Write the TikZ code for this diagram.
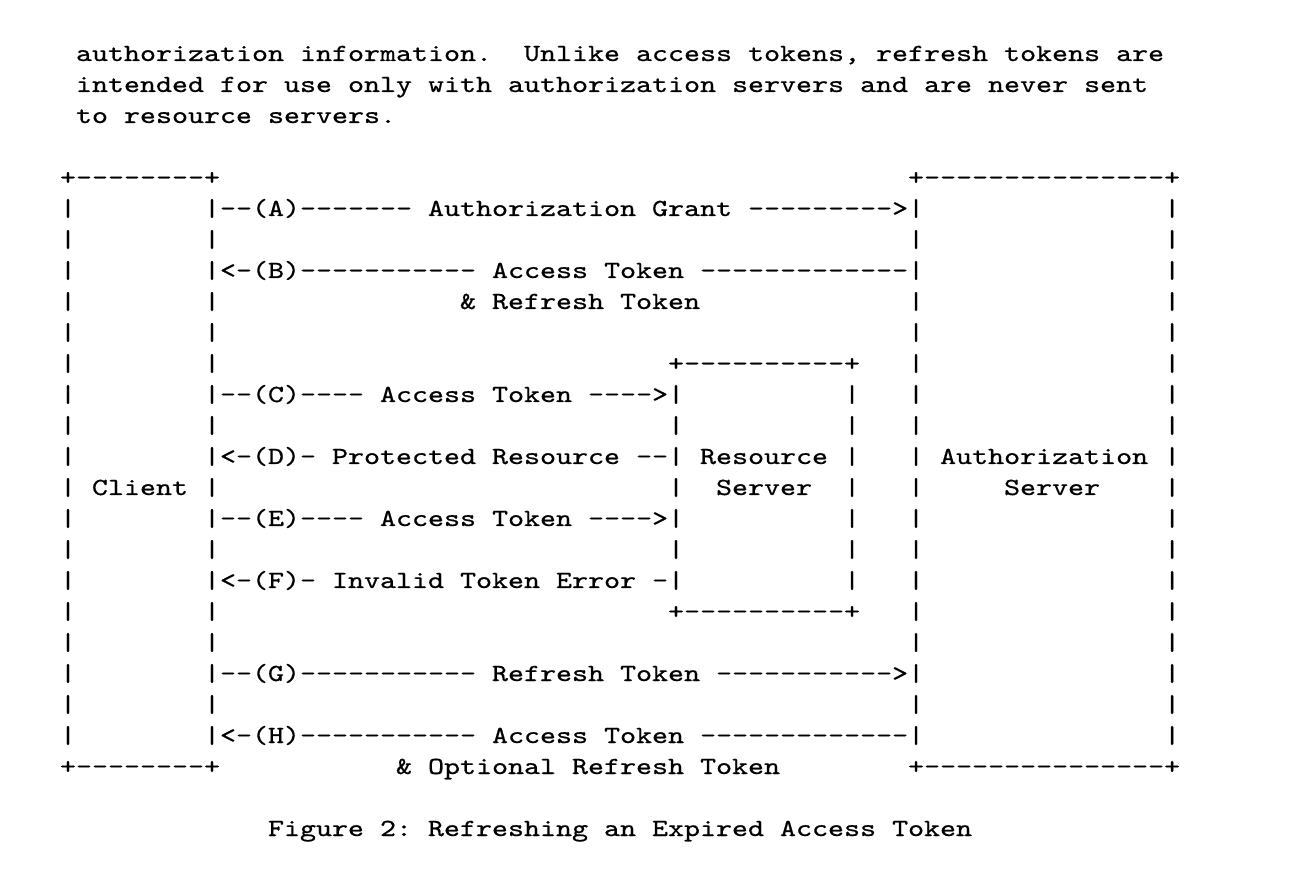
\documentclass[tikz,border=0pt]{standalone}
\usepackage{fontspec}
\setmonofont{lmmono10-regular.otf}[FakeStretch=1.239, FakeBold=0.6]
\newcommand\gap[1]{\hspace*{#1\fontcharwd\font`\x}}
\tikzset{
  asciirow/.style={anchor=base west, inner sep=0pt, outer sep=0pt,
    font=\ttfamily\fontsize{12.3pt}{15.5pt}\selectfont\frenchspacing, text=black},
}
\begin{document}
\begin{tikzpicture}[x=1pt,y=1pt]
\fill[white] (0,0) rectangle (647,-435);
\useasboundingbox (0,0) rectangle (647,-435);
% column 0 at x = 30pt ; row r baseline at y = -(30.5 + 15.5 r)
\node[asciirow] (row0)  at (38,-30.5) {authorization information.\gap{2}Unlike access tokens, refresh tokens are};
\node[asciirow] (row1)  at (38,-46.0) {intended for use only with authorization servers and are never sent};
\node[asciirow] (row2)  at (38,-61.5) {to resource servers.};
\node[asciirow] (row4)  at (30,-92.5) {+--------+\gap{43}+---------------+};
\node[asciirow] (row5)  at (30,-108.0) {|\gap{8}|--(A)------- Authorization Grant --------->|\gap{15}|};
\node[asciirow] (row6)  at (30,-123.5) {|\gap{8}|\gap{43}|\gap{15}|};
\node[asciirow] (row7)  at (30,-139.0) {|\gap{8}|<-(B)----------- Access Token -------------|\gap{15}|};
\node[asciirow] (row8)  at (30,-154.5) {|\gap{8}|\gap{15}\& Refresh Token\gap{13}|\gap{15}|};
\node[asciirow] (row9)  at (30,-170.0) {|\gap{8}|\gap{43}|\gap{15}|};
\node[asciirow] (row10) at (30,-185.5) {|\gap{8}|\gap{28}+----------+\gap{3}|\gap{15}|};
\node[asciirow] (row11) at (30,-201.0) {|\gap{8}|--(C)---- Access Token ---->|\gap{10}|\gap{3}|\gap{15}|};
\node[asciirow] (row12) at (30,-216.5) {|\gap{8}|\gap{28}|\gap{10}|\gap{3}|\gap{15}|};
\node[asciirow] (row13) at (30,-232.0) {|\gap{8}|<-(D)- Protected Resource --| Resource |\gap{3}| Authorization |};
\node[asciirow] (row14) at (30,-247.5) {| Client |\gap{28}|\gap{2}Server\gap{2}|\gap{3}|\gap{5}Server\gap{4}|};
\node[asciirow] (row15) at (30,-263.0) {|\gap{8}|--(E)---- Access Token ---->|\gap{10}|\gap{3}|\gap{15}|};
\node[asciirow] (row16) at (30,-278.5) {|\gap{8}|\gap{28}|\gap{10}|\gap{3}|\gap{15}|};
\node[asciirow] (row17) at (30,-294.0) {|\gap{8}|<-(F)- Invalid Token Error -|\gap{10}|\gap{3}|\gap{15}|};
\node[asciirow] (row18) at (30,-309.5) {|\gap{8}|\gap{28}+----------+\gap{3}|\gap{15}|};
\node[asciirow] (row19) at (30,-325.0) {|\gap{8}|\gap{43}|\gap{15}|};
\node[asciirow] (row20) at (30,-340.5) {|\gap{8}|--(G)----------- Refresh Token ----------->|\gap{15}|};
\node[asciirow] (row21) at (30,-356.0) {|\gap{8}|\gap{43}|\gap{15}|};
\node[asciirow] (row22) at (30,-371.5) {|\gap{8}|<-(H)----------- Access Token -------------|\gap{15}|};
\node[asciirow] (row23) at (30,-387.0) {+--------+\gap{11}\& Optional Refresh Token\gap{8}+---------------+};
\node[asciirow] (row25) at (134,-418.0) {Figure 2: Refreshing an Expired Access Token};
\end{tikzpicture}
\end{document}
